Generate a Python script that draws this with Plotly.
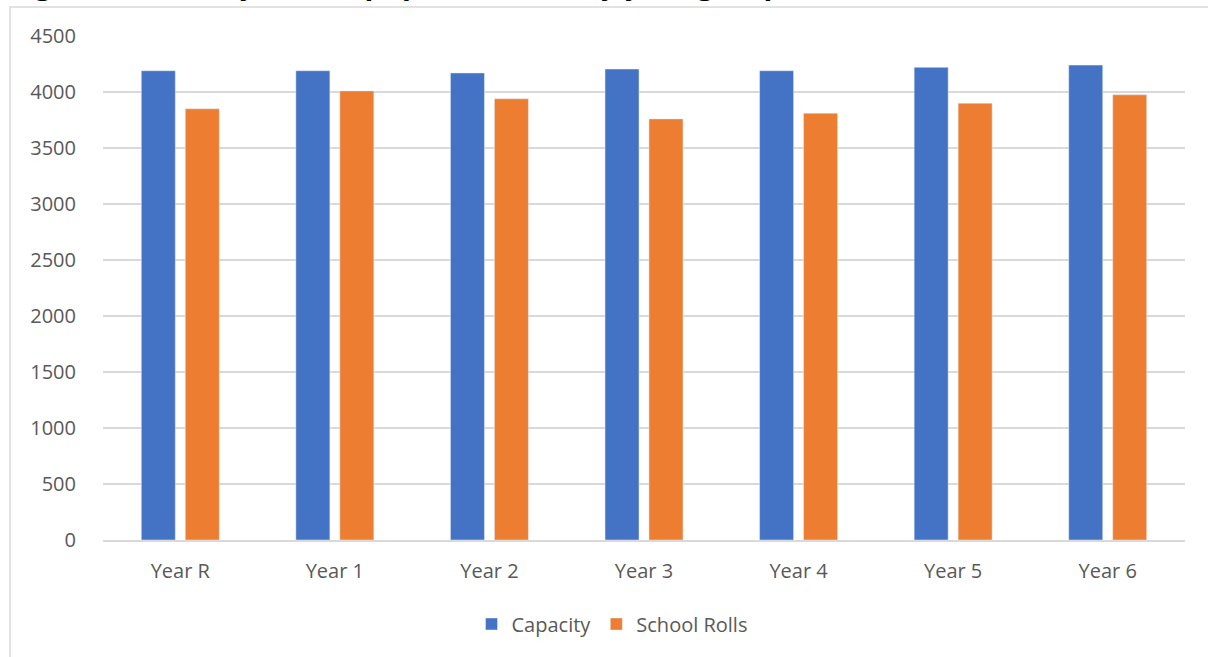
import plotly.graph_objects as go

categories = ["Year R", "Year 1", "Year 2", "Year 3", "Year 4", "Year 5", "Year 6"]
capacity = [4190, 4190, 4170, 4205, 4190, 4220, 4240]
school_rolls = [3850, 4010, 3940, 3760, 3810, 3900, 3975]
y_ticks = [0, 500, 1000, 1500, 2000, 2500, 3000, 3500, 4000, 4500]
title_text = "Figure 5: Primary school pupil numbers by year group"

W, H = 1208, 657
L, R, T, B = 103, 23, 36, 117
pw, ph = W - L - R, H - T - B

def px_x(x):
    return (x - L) / pw

def px_y(y):
    return (H - B - y) / ph

fig = go.Figure()
fig.add_trace(go.Bar(name="Capacity", x=categories, y=capacity, marker_color="#4472C4"))
fig.add_trace(go.Bar(name="School Rolls", x=categories, y=school_rolls, marker_color="#ED7D31"))

font_family = "Open Sans"
fig.update_layout(
    width=W, height=H,
    margin=dict(l=L, r=R, t=T, b=B, pad=0),
    paper_bgcolor="white", plot_bgcolor="white",
    barmode="group", bargap=0.431, bargroupgap=0.227,
    font=dict(family=font_family, size=20, color="#595959"),
    showlegend=True,
    legend=dict(orientation="h", x=px_x(612), xanchor="center", y=px_y(624), yanchor="middle",
                font=dict(size=20, color="#595959"), itemwidth=30, traceorder="normal"),
    xaxis=dict(showgrid=False, showline=True, linecolor="#D9D9D9", linewidth=1.5,
               ticks="", ticklabelstandoff=12, tickfont=dict(size=20, color="#595959")),
    yaxis=dict(range=[0, 4500], tickvals=y_ticks, showgrid=True, gridcolor="#D9D9D9",
               gridwidth=1.5, zeroline=False, showline=False, ticks="",
               ticklabelstandoff=26, tickfont=dict(size=20, color="#595959")),
    shapes=[dict(type="rect", xref="paper", yref="paper",
                 x0=px_x(10), x1=px_x(1260), y0=px_y(720), y1=px_y(7),
                 line=dict(color="#D9D9D9", width=1.5), fillcolor="rgba(0,0,0,0)", layer="below")],
    annotations=[dict(text="<b>" + title_text + "</b>", xref="paper", yref="paper",
                      x=px_x(8), y=px_y(4), xanchor="left", yanchor="bottom", showarrow=False,
                      font=dict(family=font_family, size=29, color="#000000"))],
)

fig.write_html("out.html", config={"displayModeBar": False},
               post_script="document.body.style.margin='0';document.body.style.overflow='hidden';")
